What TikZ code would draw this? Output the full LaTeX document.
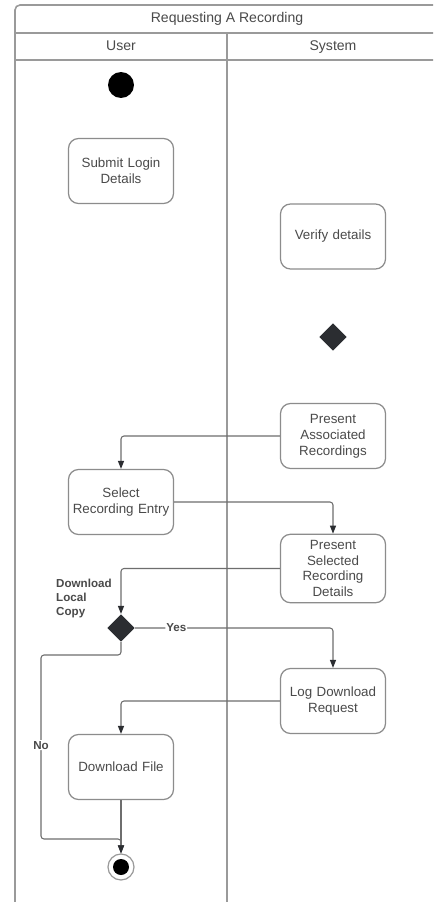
\documentclass[tikz,border=0pt]{standalone}
\usepackage{fontspec}
\setmainfont{Liberation Sans}
\usetikzlibrary{shapes.geometric,arrows.meta}
\definecolor{txt}{HTML}{4A4A4A}
\definecolor{frameline}{HTML}{9A9A9A}
\definecolor{boxline}{HTML}{8C8C8C}
\definecolor{flowline}{HTML}{6E6E6E}
\definecolor{solid}{HTML}{2B2D31}
\tikzset{
  actbox/.style={draw=boxline, line width=0.7pt, rounded corners=0.2cm, fill=white,
    minimum width=2.1cm, minimum height=1.3cm, align=center, text width=1.98cm,
    inner xsep=1pt, text=txt, font=\fontsize{7.6}{9}\selectfont},
  startdot/.style={circle, fill=black, minimum size=0.52cm, inner sep=0pt},
  enddot/.style={circle, draw=frameline, line width=0.7pt, fill=white, minimum size=0.52cm, inner sep=0pt},
  decision/.style={diamond, fill=solid, minimum width=0.55cm, minimum height=0.55cm, inner sep=0pt},
  flow/.style={draw=flowline, line width=0.6pt, rounded corners=0.06cm,
    -{Triangle[length=0.16cm, width=0.12cm, fill=solid, color=solid]}},
  guard/.style={fill=white, inner sep=0.5pt, text=txt, font=\bfseries\fontsize{6.6}{7.9}\selectfont},
  lanehead/.style={text=txt, font=\fontsize{8}{9.6}\selectfont, text height=6pt, text depth=1.7pt},
  lane/.style={draw=frameline, line width=0.9pt}
}
\begin{document}
\begin{tikzpicture}[x=0.02cm, y=-0.02cm]
\useasboundingbox (0,0) rectangle (433,902);
\clip (0,0) rectangle (433,902);
\fill[white] (0,0) rectangle (433,902);

% swimlane frame
\draw[lane, rounded corners=0.1cm] (15,930) -- (15,5) -- (439,5) -- (439,930);
\draw[lane] (15,33) -- (439,33);
\draw[lane] (15,60) -- (439,60);
\draw[lane] (227,33) -- (227,930);
\node[lanehead] (title) at (227,19) {Requesting A Recording};
\node[lanehead] (userlane) at (121,46.5) {User};
\node[lanehead] (syslane) at (333,46.5) {System};

% activities
\node[startdot] (start) at (121,85) {};
\node[actbox] (submit) at (121,171) {Submit Login\\Details};
\node[actbox] (verify) at (333,236.5) {Verify details};
\node[decision] (check) at (333,337) {};
\node[actbox] (present) at (333,436) {Present\\Associated\\Recordings};
\node[actbox] (select) at (121,502) {Select\\Recording Entry};
\node[actbox] (details) at (333,568.5) {Present\\Selected\\Recording\\Details};
\node[decision] (choice) at (121,628) {};
\node[guard, fill=none, align=left, anchor=north west] (choicelbl) at (55,578) {Download\\Local\\Copy};
\node[actbox] (logreq) at (333,701) {Log Download\\Request};
\node[actbox] (download) at (121,767) {Download File};
\node[enddot] (finish) at (121,867) {};
\node[circle, fill=black, minimum size=0.32cm, inner sep=0pt] (finishdot) at (finish.center) {};

% control flow
\coordinate (nodrop) at (41,655);
\coordinate (noturn) at (41,839);
\draw[flow] (present.west) -| (select.north);
\draw[flow] (select.east) -| (details.north);
\draw[flow] (details.west) -| (choice.north);
\draw[flow] (choice.east) -| node[guard, pos=0.104] (yeslbl) {Yes} (logreq.north);
\draw[flow] (logreq.west) -| (download.north);
\draw[flow] (download.south) -- (finish.north);
\draw[flow] (choice.south) |- (nodrop) -- node[guard, pos=0.49] (nolbl) {No} (noturn) -| (finish.north);
\end{tikzpicture}
\end{document}
